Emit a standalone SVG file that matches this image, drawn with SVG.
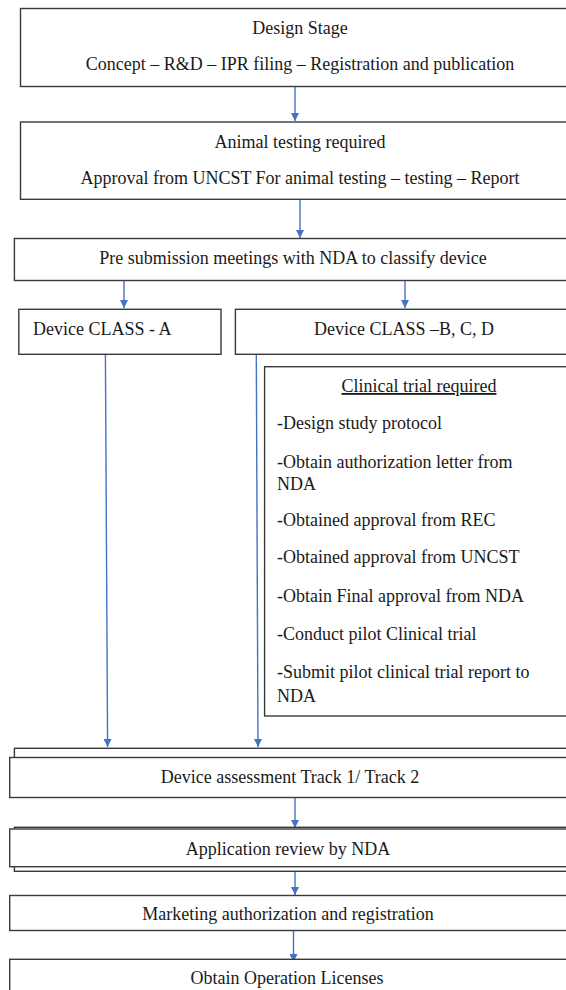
<svg xmlns="http://www.w3.org/2000/svg" width="566" height="990" viewBox="0 0 566 990">
<style>
.box{fill:#fff;stroke:#3a3a3a;stroke-width:1.4}
.t{font-family:"Liberation Serif","Times New Roman",serif;font-size:18px;fill:#1a1a1a}
.c{text-anchor:middle}
.con{stroke:#4472c4;stroke-width:1.4;fill:none}
</style>
<defs>
<marker id="ah" viewBox="0 0 10 10" refX="10" refY="5" markerWidth="8" markerHeight="8" markerUnits="userSpaceOnUse" orient="auto">
<path d="M0,0 L10,5 L0,10 z" fill="#4472c4"/>
</marker>
</defs>
<g id="connectors">
<line class="con" x1="295" y1="87" x2="295" y2="121" marker-end="url(#ah)"/>
<line class="con" x1="300" y1="199" x2="300" y2="238" marker-end="url(#ah)"/>
<line class="con" x1="124" y1="281" x2="124" y2="308" marker-end="url(#ah)"/>
<line class="con" x1="405" y1="281" x2="405" y2="308" marker-end="url(#ah)"/>
<line class="con" x1="105.4" y1="354" x2="107.6" y2="747" marker-end="url(#ah)"/>
<line class="con" x1="256.3" y1="354" x2="258" y2="747" marker-end="url(#ah)"/>
<line class="con" x1="295" y1="798" x2="295" y2="828" marker-end="url(#ah)"/>
<line class="con" x1="295" y1="871" x2="295" y2="895" marker-end="url(#ah)"/>
<line class="con" x1="293.5" y1="931" x2="293.5" y2="962" marker-end="url(#ah)"/>
</g>
<g id="design-stage">
<rect class="box" x="20.5" y="8.5" width="560" height="78"/>
<text class="t c" x="300" y="34">Design Stage</text>
<text class="t c" x="300" y="70">Concept – R&amp;D – IPR filing – Registration and publication</text>
</g>
<g id="animal-testing">
<rect class="box" x="20.5" y="122" width="560" height="77.3"/>
<text class="t c" x="300" y="148">Animal testing required</text>
<text class="t c" x="300" y="184">Approval from UNCST For animal testing – testing – Report</text>
</g>
<g id="pre-submission">
<rect class="box" x="14.4" y="238.5" width="566" height="42"/>
<text class="t c" x="293" y="264">Pre submission meetings with NDA to classify device</text>
</g>
<g id="class-a">
<rect class="box" x="18.8" y="309.3" width="202.2" height="45"/>
<text class="t" x="33" y="335">Device CLASS - A</text>
</g>
<g id="class-bcd">
<rect class="box" x="235.4" y="309.3" width="345" height="45"/>
<text class="t c" x="404" y="335">Device CLASS –B, C, D</text>
</g>
<g id="clinical-trial">
<rect class="box" x="264.6" y="366.7" width="316" height="349.3"/>
<text class="t c" x="419" y="392" text-decoration="underline">Clinical trial required</text>
<text class="t" x="277" y="429">-Design study protocol</text>
<text class="t" x="277" y="468">-Obtain authorization letter from</text>
<text class="t" x="277" y="490">NDA</text>
<text class="t" x="277" y="526">-Obtained approval from REC</text>
<text class="t" x="277" y="563">-Obtained approval from UNCST</text>
<text class="t" x="277" y="602">-Obtain Final approval from NDA</text>
<text class="t" x="277" y="640">-Conduct pilot Clinical trial</text>
<text class="t" x="277" y="678">-Submit pilot clinical trial report to</text>
<text class="t" x="277" y="702">NDA</text>
</g>
<g id="device-assessment">
<rect class="box" x="14.4" y="748.3" width="566" height="40"/>
<rect class="box" x="9.7" y="757.5" width="571" height="40"/>
<text class="t c" x="290" y="783">Device assessment Track 1/ Track 2</text>
</g>
<g id="application-review">
<rect class="box" x="14.4" y="827.3" width="566" height="44"/>
<rect class="box" x="9.7" y="829" width="571" height="37.7"/>
<text class="t c" x="288" y="855">Application review by NDA</text>
</g>
<g id="marketing-authorization">
<rect class="box" x="9.7" y="895.5" width="571" height="35"/>
<text class="t c" x="288" y="920">Marketing authorization and registration</text>
</g>
<g id="operation-licenses">
<rect class="box" x="9.7" y="959.3" width="571" height="40"/>
<text class="t c" x="287" y="984">Obtain Operation Licenses</text>
</g>
</svg>
